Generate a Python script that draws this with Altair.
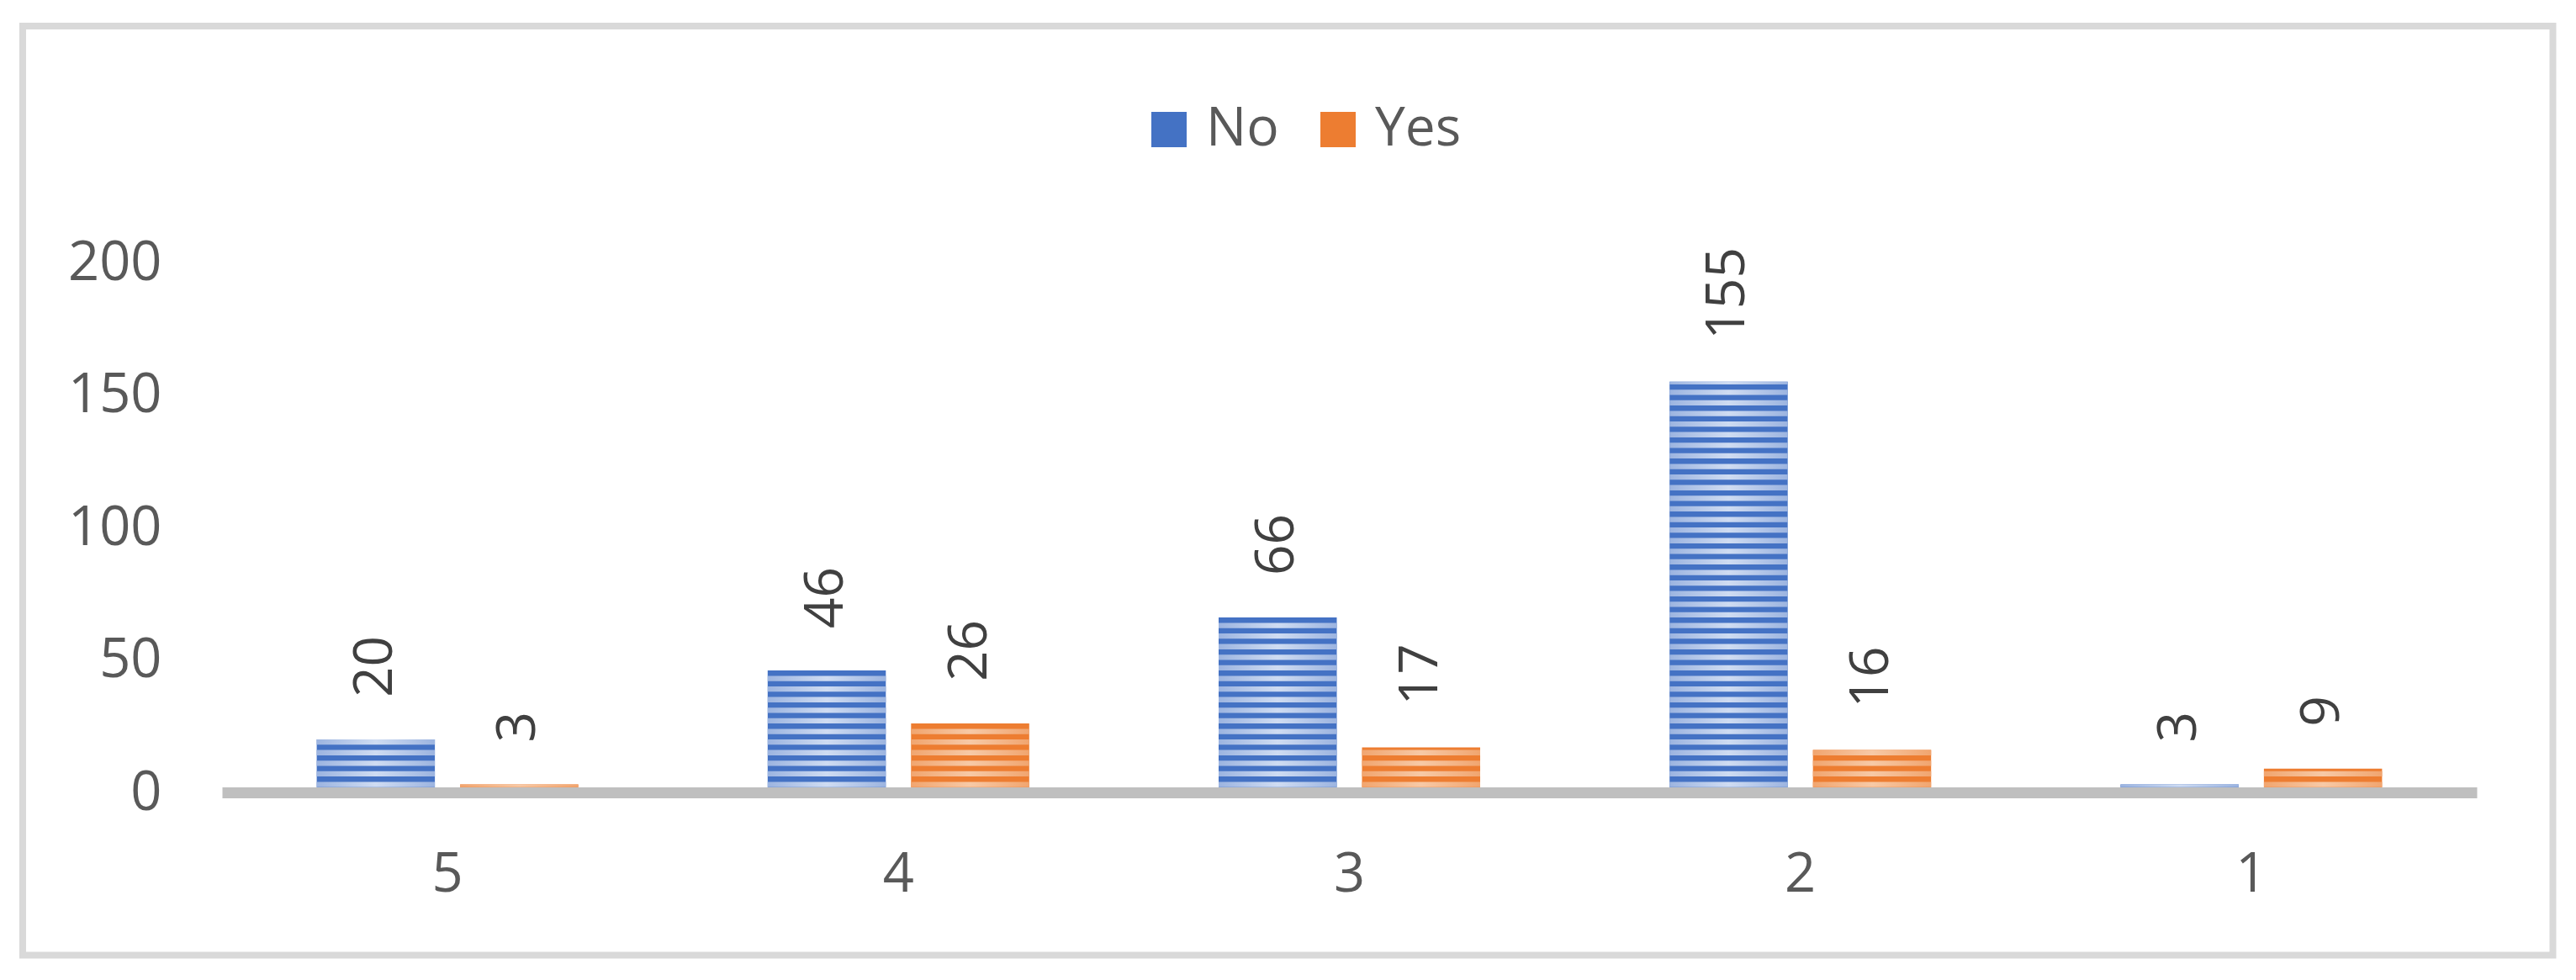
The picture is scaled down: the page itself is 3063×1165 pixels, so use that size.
import altair as alt
import pandas as pd

categories = ["5", "4", "3", "2", "1"]
series = ["No", "Yes"]
no_values = [20, 46, 66, 155, 3]
yes_values = [3, 26, 17, 16, 9]
y_ticks = [0, 50, 100, 150, 200]

rows = []
for c, n, y in zip(categories, no_values, yes_values):
    rows.append({"cat": c, "series": "No", "value": n})
    rows.append({"cat": c, "series": "Yes", "value": y})
df = pd.DataFrame(rows)

FONT = "Open Sans"
W, H = 2681, 630

x_enc = alt.X("cat:N", sort=categories,
              scale=alt.Scale(paddingInner=0.42, paddingOuter=0.21),
              axis=alt.Axis(title=None, ticks=False, labelAngle=0, labelFontSize=65,
                            labelFont=FONT, labelColor="#595959", labelPadding=66,
                            domainColor="#bfbfbf", domainWidth=13, zindex=1))
xo_enc = alt.XOffset("series:N", scale=alt.Scale(domain=series, paddingInner=0.176, paddingOuter=0))
y_enc = alt.Y("value:Q", scale=alt.Scale(domain=[0, 200], nice=False),
              axis=alt.Axis(title=None, values=y_ticks, ticks=False, domain=False, grid=False,
                            labelFontSize=65, labelFont=FONT, labelColor="#595959",
                            labelPadding=72))

base = alt.Chart(df)

bars = base.mark_bar().encode(
    x=x_enc, xOffset=xo_enc, y=y_enc,
    color=alt.Color("series:N",
                    scale=alt.Scale(domain=series, range=["#4472C4", "#ED7D31"]),
                    legend=alt.Legend(title=None, orient="none", direction="horizontal",
                                      legendX=1094, legendY=-190, padding=0,
                                      symbolType="square", symbolSize=1764,
                                      symbolStrokeWidth=0, labelFontSize=64,
                                      labelFont=FONT, labelColor="#595959",
                                      labelOffset=12, columnPadding=38)),
)

def stripes(name, edge, mid):
    return base.transform_filter(
        alt.datum.series == name
    ).transform_calculate(
        s="sequence(2, datum.value, 4)"
    ).transform_flatten(["s"]).transform_calculate(
        s2="min(datum.s + 2, datum.value)"
    ).mark_bar(
        fill=alt.LinearGradient(gradient="linear", x1=0, x2=1, y1=0, y2=0,
                                stops=[alt.GradientStop(color=edge, offset=0),
                                       alt.GradientStop(color=mid, offset=0.5),
                                       alt.GradientStop(color=edge, offset=1)])
    ).encode(
        x=alt.X("cat:N", sort=categories), xOffset=alt.XOffset("series:N"),
        y=alt.Y("s:Q"), y2="s2:Q",
    )

stripes_no = stripes("No", "#9cb4e0", "#cfdcf2")
stripes_yes = stripes("Yes", "#f1a56f", "#f7c9a6")

labels = base.mark_text(angle=270, align="left", baseline="middle", dx=50,
                        fontSize=64, font=FONT, color="#404040").encode(
    x=alt.X("cat:N", sort=categories), xOffset=alt.XOffset("series:N"),
    y=alt.Y("value:Q"), text=alt.Text("value:Q"),
)

frame = alt.Chart(alt.Data(values=[{"a": 1}])).mark_rect(
    fillOpacity=0, stroke="#d9d9d9", strokeWidth=8
).encode(
    x=alt.value(-237), x2=alt.value(2771.5), y=alt.value(-281), y2=alt.value(823.5)
)

chart = alt.layer(frame, bars, stripes_no, stripes_yes, labels).properties(
    width=W, height=H, background="white",
    padding={"left": 15, "top": 19, "right": 0, "bottom": 0},
).configure_view(stroke="transparent", strokeWidth=0)

chart.save("out.html", embed_options={"renderer": "svg", "actions": False})
